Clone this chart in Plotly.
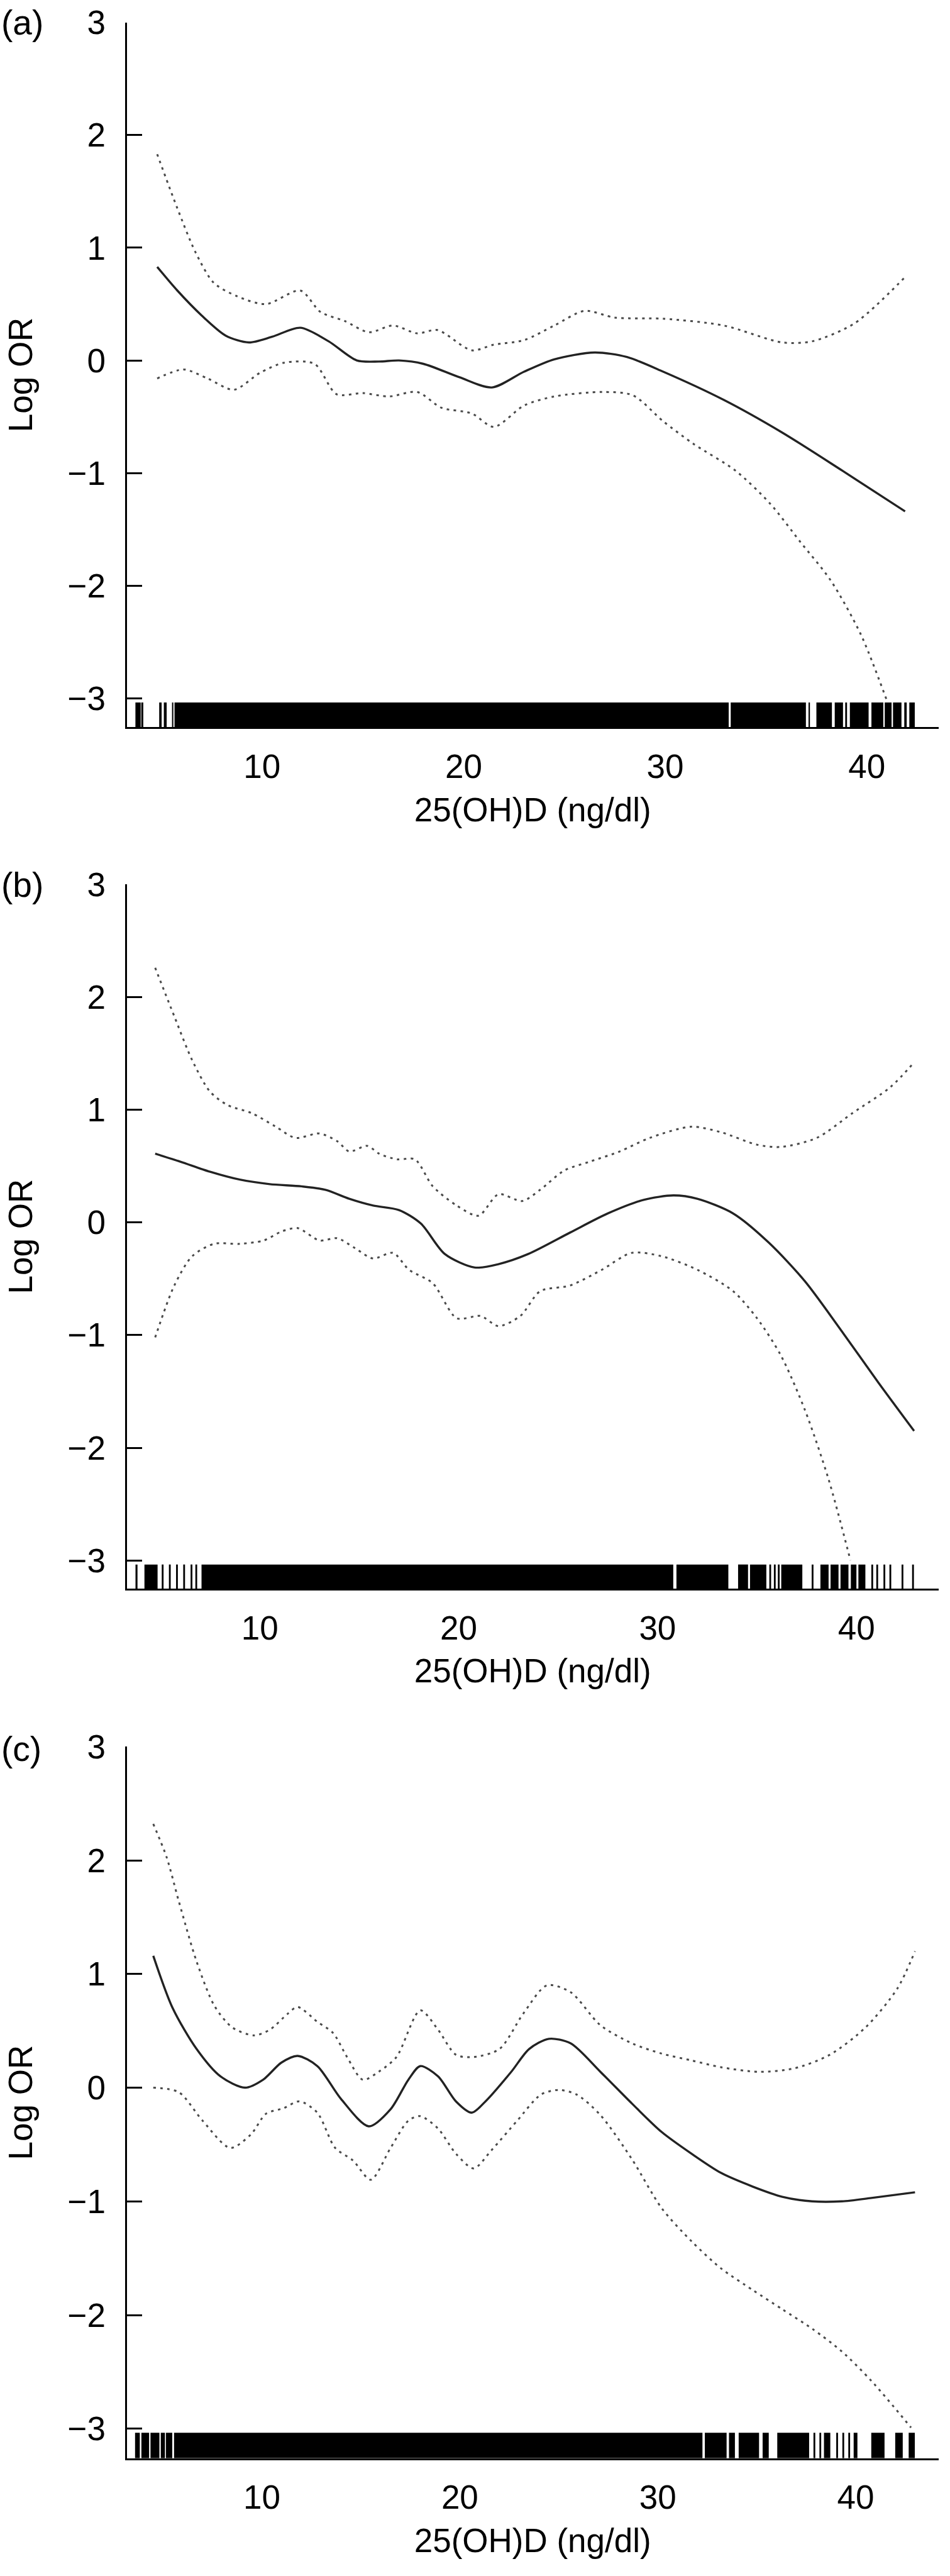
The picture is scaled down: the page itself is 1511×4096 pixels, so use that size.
import plotly.graph_objects as go

# ---------------- data ----------------
# Panel (a)
a_x_solid = [4.8, 5.8, 7.0, 8.2, 9.35, 10.5, 11.9, 13.3, 14.7, 15.8, 16.8, 18.0, 19.8, 21.4, 23.0, 24.5, 26.5, 28.1, 29.9, 32.9, 35.8, 38.8, 41.9]
a_y_solid = [0.83, 0.62, 0.40, 0.22, 0.16, 0.21, 0.29, 0.17, 0.0, -0.01, 0.0, -0.03, -0.15, -0.24, -0.10, 0.01, 0.07, 0.03, -0.10, -0.35, -0.64, -0.98, -1.34]
a_x_upper = [4.8, 5.8, 6.7, 7.6, 8.75, 10.2, 11.9, 12.9, 14.1, 15.3, 16.5, 17.7, 18.7, 20.4, 21.5, 23.0, 24.5, 26.0, 27.5, 29.9, 32.9, 35.8, 37.3, 39.4, 41.9]
a_y_upper = [1.83, 1.35, 0.96, 0.69, 0.57, 0.50, 0.62, 0.43, 0.35, 0.25, 0.31, 0.24, 0.27, 0.09, 0.14, 0.18, 0.31, 0.44, 0.38, 0.37, 0.31, 0.16, 0.17, 0.33, 0.74]
a_x_lower = [4.8, 6.1, 7.3, 8.6, 9.9, 11.1, 12.6, 13.7, 15.0, 16.3, 17.7, 18.9, 20.4, 21.5, 23.0, 24.5, 26.9, 28.4, 29.9, 31.4, 33.5, 35.2, 36.7, 38.2, 39.7, 41.0]
a_y_lower = [-0.16, -0.08, -0.16, -0.26, -0.11, -0.02, -0.03, -0.30, -0.29, -0.32, -0.28, -0.42, -0.47, -0.59, -0.40, -0.32, -0.28, -0.31, -0.54, -0.74, -0.98, -1.27, -1.61, -1.95, -2.43, -3.02]
a_rug_start = [3.72, 4.01, 4.90, 5.13, 5.54, 5.66, 33.25, 37.11, 37.50, 38.41, 38.93, 39.16, 40.23, 40.89, 41.30, 41.86, 42.11]
a_rug_end = [3.98, 4.11, 5.02, 5.27, 5.60, 33.15, 36.98, 37.18, 38.27, 38.82, 39.02, 40.09, 40.82, 41.23, 41.72, 41.98, 42.38]

# Panel (b)
b_x_solid = [4.74, 6.0, 7.5, 9.0, 10.5, 12.1, 13.3, 14.5, 15.7, 17.0, 18.1, 19.3, 20.8, 22.0, 23.5, 25.6, 27.5, 29.3, 30.8, 32.0, 33.8, 35.6, 37.4, 39.2, 41.1, 42.9]
b_y_solid = [0.61, 0.54, 0.45, 0.38, 0.34, 0.32, 0.29, 0.21, 0.15, 0.11, -0.01, -0.28, -0.40, -0.37, -0.28, -0.09, 0.08, 0.20, 0.24, 0.21, 0.08, -0.18, -0.52, -0.95, -1.42, -1.85]
b_x_upper = [4.74, 5.7, 6.6, 7.5, 8.4, 9.6, 10.8, 11.8, 13.0, 13.9, 14.5, 15.4, 16.0, 16.9, 17.8, 18.7, 19.9, 21.0, 22.0, 23.2, 24.1, 25.3, 26.6, 28.1, 29.6, 31.7, 33.2, 35.0, 36.2, 38.0, 39.8, 41.7, 42.9]
b_y_upper = [2.26, 1.83, 1.44, 1.16, 1.04, 0.97, 0.85, 0.75, 0.79, 0.72, 0.63, 0.68, 0.61, 0.56, 0.56, 0.32, 0.15, 0.06, 0.25, 0.19, 0.29, 0.46, 0.54, 0.63, 0.75, 0.85, 0.80, 0.69, 0.67, 0.75, 0.97, 1.20, 1.42]
b_x_lower = [4.74, 5.7, 6.6, 7.7, 9.0, 10.2, 11.1, 11.9, 13.0, 13.9, 14.8, 15.7, 16.7, 17.5, 18.7, 19.9, 21.1, 22.0, 23.1, 24.1, 25.6, 27.2, 28.7, 30.2, 32.0, 33.8, 35.0, 36.2, 37.4, 38.6, 39.7]
b_y_lower = [-1.02, -0.56, -0.30, -0.19, -0.19, -0.16, -0.08, -0.05, -0.16, -0.14, -0.23, -0.32, -0.27, -0.42, -0.54, -0.85, -0.83, -0.92, -0.83, -0.61, -0.56, -0.42, -0.27, -0.30, -0.42, -0.61, -0.85, -1.18, -1.66, -2.28, -3.00]
b_rug_start = [3.75, 4.20, 5.07, 5.43, 5.79, 6.15, 6.52, 6.76, 7.07, 30.95, 34.05, 34.65, 35.62, 35.85, 36.05, 36.22, 37.75, 38.19, 38.70, 39.20, 39.72, 40.10, 40.75, 41.00, 41.36, 41.66, 42.27, 42.80]
b_rug_end = [3.85, 4.86, 5.16, 5.52, 5.88, 6.24, 6.61, 6.85, 30.79, 33.56, 34.55, 35.47, 35.71, 35.94, 36.14, 37.28, 37.84, 38.60, 39.10, 39.60, 40.00, 40.45, 40.84, 41.09, 41.45, 41.75, 42.36, 42.89]

# Panel (c)
c_x_solid = [4.51, 5.49, 6.7, 7.9, 9.15, 10.06, 10.98, 11.8, 12.8, 14.0, 15.4, 16.5, 17.4, 18.0, 18.9, 19.8, 20.6, 21.3, 22.6, 23.5, 24.5, 25.6, 27.1, 28.7, 30.2, 31.7, 33.2, 34.8, 36.3, 37.8, 39.3, 40.8, 43.0]
c_y_solid = [1.16, 0.70, 0.34, 0.10, 0.0, 0.07, 0.22, 0.28, 0.19, -0.10, -0.34, -0.19, 0.07, 0.19, 0.10, -0.12, -0.22, -0.12, 0.14, 0.34, 0.43, 0.39, 0.14, -0.14, -0.39, -0.58, -0.75, -0.87, -0.96, -1.0, -1.0, -0.97, -0.92]
c_x_upper = [4.51, 5.18, 5.8, 6.7, 7.6, 8.5, 9.6, 10.4, 11.3, 11.8, 12.8, 13.6, 14.3, 15.1, 15.9, 16.8, 18.0, 18.9, 19.8, 20.7, 22.0, 23.2, 24.4, 25.6, 27.1, 28.7, 30.2, 31.7, 33.2, 35.1, 36.9, 38.7, 40.5, 42.1, 43.0]
c_y_upper = [2.32, 2.03, 1.64, 1.11, 0.72, 0.53, 0.46, 0.51, 0.65, 0.71, 0.58, 0.48, 0.27, 0.07, 0.14, 0.27, 0.68, 0.51, 0.29, 0.27, 0.34, 0.65, 0.90, 0.84, 0.55, 0.39, 0.30, 0.24, 0.18, 0.14, 0.17, 0.29, 0.53, 0.87, 1.20]
c_x_lower = [4.51, 5.8, 7.0, 8.4, 9.45, 10.2, 11.1, 11.9, 12.8, 13.7, 14.6, 15.5, 16.5, 17.4, 18.0, 18.9, 19.8, 20.7, 21.6, 22.9, 24.1, 25.0, 25.9, 27.1, 28.7, 30.2, 31.7, 33.2, 34.8, 36.3, 37.8, 39.3, 40.8, 42.8]
c_y_lower = [0.0, -0.04, -0.29, -0.53, -0.41, -0.23, -0.18, -0.12, -0.22, -0.53, -0.64, -0.81, -0.53, -0.29, -0.25, -0.36, -0.58, -0.71, -0.55, -0.29, -0.06, -0.02, -0.06, -0.24, -0.63, -1.06, -1.35, -1.59, -1.78, -1.95, -2.12, -2.32, -2.58, -2.99]
c_rug_start = [3.59, 3.91, 4.37, 4.89, 5.15, 5.56, 32.38, 33.60, 34.09, 35.30, 36.04, 37.87, 38.17, 38.40, 39.02, 39.33, 39.63, 39.90, 40.79, 42.00, 42.68]
c_rug_end = [3.83, 4.30, 4.82, 5.10, 5.47, 32.26, 33.48, 33.90, 35.12, 35.61, 37.65, 37.96, 38.26, 38.72, 39.11, 39.42, 39.72, 40.09, 41.46, 42.38, 42.99]

panel_labels = ["(a)", "(b)", "(c)"]
y_ticks = [-3, -2, -1, 0, 1, 2, 3]
x_ticks = [10, 20, 30, 40]
x_title = "25(OH)D (ng/dl)"
y_title = "Log OR"

# ---------------- layout geometry ----------------
W, H = 1511, 4096
FONT = "Liberation Sans, Arial, Helvetica, sans-serif"
x_dom = [201.6 / W, 1492.8 / W]
y_doms = [[1 - 1156.3 / H, 1 - 35.6 / H],
          [1 - 2526.0 / H, 1 - 1406.3 / H],
          [1 - 3908.8 / H, 1 - 2777.3 / H]]
x_ranges = [[3.29, 43.56], [3.31, 44.13], [3.17, 44.19]]
y_ranges = [[-3.255, 3.0], [-3.25, 3.0], [-3.26, 3.0]]
rug_top = -3.036
label_y_px = [35.6, 1407.0, 2781.0]

panels = [
    (a_x_solid, a_y_solid, a_x_upper, a_y_upper, a_x_lower, a_y_lower, a_rug_start, a_rug_end),
    (b_x_solid, b_y_solid, b_x_upper, b_y_upper, b_x_lower, b_y_lower, b_rug_start, b_rug_end),
    (c_x_solid, c_y_solid, c_x_upper, c_y_upper, c_x_lower, c_y_lower, c_rug_start, c_rug_end),
]

fig = go.Figure()
annotations = []
for i, (xs, ys, xu, yu, xl, yl, rs, re_) in enumerate(panels):
    sfx = "" if i == 0 else str(i + 1)
    xa, ya = "x" + sfx, "y" + sfx
    base = y_ranges[i][0]
    centers = [(s + e) / 2 for s, e in zip(rs, re_)]
    widths = [e - s for s, e in zip(rs, re_)]
    fig.add_trace(go.Bar(x=centers, y=[rug_top - base] * len(centers), base=[base] * len(centers),
                         width=widths, marker=dict(color="black", line=dict(width=0)),
                         xaxis=xa, yaxis=ya, hoverinfo="skip", showlegend=False))
    for xd, yd in ((xu, yu), (xl, yl)):
        fig.add_trace(go.Scatter(x=xd, y=yd, mode="lines",
                                 line=dict(color="#4a4a4a", width=3, dash="4px,7px", shape="spline", smoothing=0.8),
                                 xaxis=xa, yaxis=ya, showlegend=False))
    fig.add_trace(go.Scatter(x=xs, y=ys, mode="lines",
                             line=dict(color="#222222", width=3.4, shape="spline", smoothing=0.8),
                             xaxis=xa, yaxis=ya, showlegend=False))

    fig.update_layout(**{
        "xaxis" + sfx: dict(domain=x_dom, range=x_ranges[i], anchor=ya, tickvals=x_ticks,
                            ticks="", showgrid=False, zeroline=False, showline=True, automargin=False,
                            linecolor="black", linewidth=3, ticklabelstandoff=14,
                            tickfont=dict(family=FONT, size=53, color="black"),
                            title=dict(text=x_title, font=dict(family=FONT, size=53, color="black"), standoff=22)),
        "yaxis" + sfx: dict(domain=y_doms[i], range=y_ranges[i], anchor=xa, tickvals=y_ticks,
                            ticks="inside", ticklen=24, tickwidth=3, tickcolor="black",
                            showgrid=False, zeroline=False, showline=True, automargin=False,
                            linecolor="black", linewidth=3, ticklabelstandoff=20,
                            tickfont=dict(family=FONT, size=53, color="black"),
                            title=dict(text=y_title, font=dict(family=FONT, size=53, color="black"), standoff=40)),
    })
    annotations.append(dict(text=panel_labels[i], x=0.0, y=1 - label_y_px[i] / H, xref="paper", yref="paper",
                            xanchor="left", yanchor="middle", showarrow=False,
                            font=dict(family=FONT, size=55, color="black")))

fig.update_layout(width=W, height=H, margin=dict(l=0, r=0, t=0, b=0, pad=0, autoexpand=False),
                  paper_bgcolor="white", plot_bgcolor="white", showlegend=False,
                  barmode="overlay", annotations=annotations)

fig.write_html("out.html", config={"displayModeBar": False},
               post_script="document.body.style.margin='0';")
